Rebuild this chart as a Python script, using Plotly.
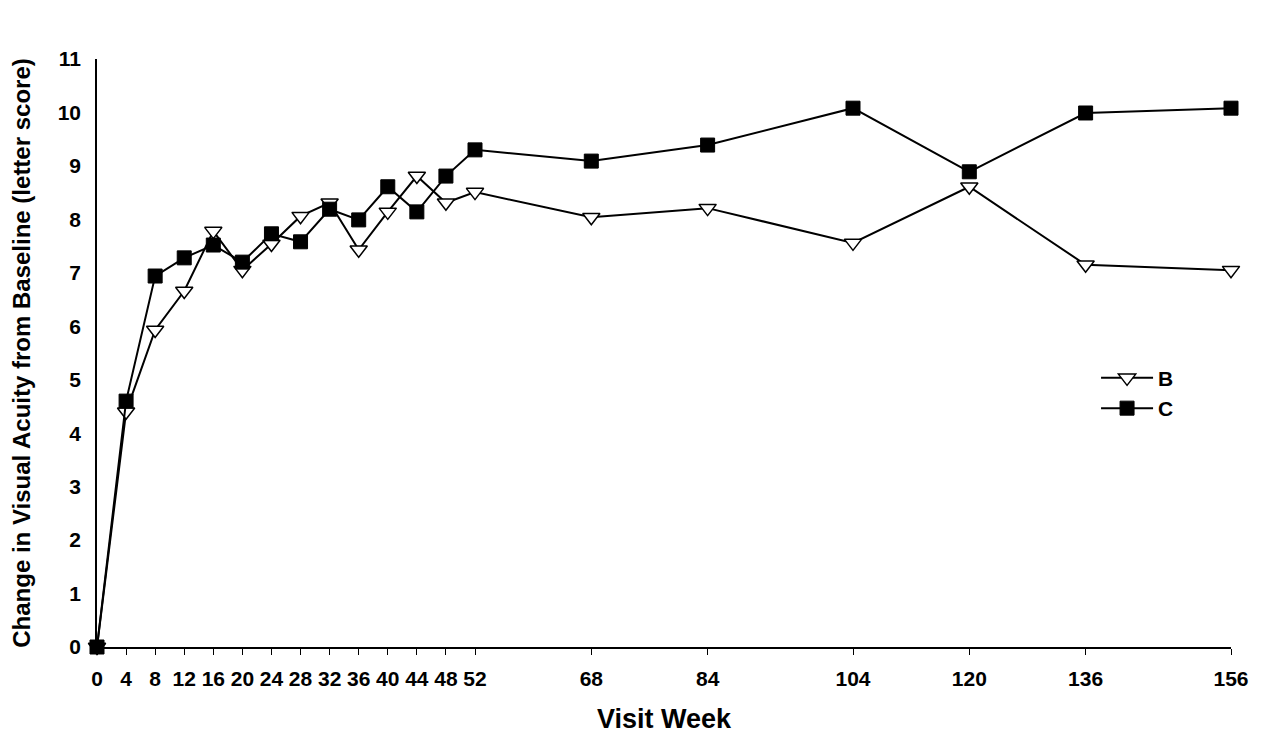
import plotly.graph_objects as go

weeks = [0, 4, 8, 12, 16, 20, 24, 28, 32, 36, 40, 44, 48, 52, 68, 84, 104, 120, 136, 156]
series_b = [0, 4.40, 5.93, 6.66, 7.78, 7.05, 7.54, 8.06, 8.31, 7.43, 8.14, 8.81, 8.31, 8.51,
            8.04, 8.21, 7.56, 8.61, 7.15, 7.05]
series_c = [0, 4.60, 6.94, 7.28, 7.52, 7.20, 7.73, 7.58, 8.19, 7.99, 8.61, 8.14, 8.81, 9.30,
            9.09, 9.39, 10.08, 8.89, 9.99, 10.08]
x_ticks = weeks
y_ticks = list(range(0, 12))

font_family = "Liberation Sans, Arial, sans-serif"

fig = go.Figure()
fig.add_trace(go.Scatter(
    x=weeks, y=series_b, name="<b>B</b>", mode="lines+markers",
    line=dict(color="black", width=2),
    marker=dict(symbol="triangle-down", size=15, color="white",
                line=dict(color="black", width=1.5)),
    cliponaxis=False,
))
fig.add_trace(go.Scatter(
    x=weeks, y=series_c, name="<b>C</b>", mode="lines+markers",
    line=dict(color="black", width=2),
    marker=dict(symbol="square", size=14, color="black",
                line=dict(color="black", width=1)),
    cliponaxis=False,
))

fig.update_layout(
    width=1266, height=743,
    margin=dict(l=89, r=43, t=51, b=104),
    plot_bgcolor="white", paper_bgcolor="white",
    font=dict(family=font_family, color="black", size=20),
    showlegend=True,
    legend=dict(x=0.881, y=0.492, xanchor="left", yanchor="top",
                bgcolor="rgba(0,0,0,0)",
                font=dict(family=font_family, size=21, color="black"),
                itemwidth=52, tracegroupgap=0),
    xaxis=dict(
        range=[0, 156], tickmode="array", tickvals=x_ticks,
        ticktext=[str(v) for v in x_ticks],
        showgrid=False, zeroline=False, showline=True, linecolor="black", linewidth=1.5,
        ticks="outside", ticklen=6, tickcolor="black", ticklabelstandoff=6,
        tickfont=dict(family=font_family, size=21, color="black", weight="bold"),
        title=dict(text="<b>Visit Week</b>", font=dict(family=font_family, size=27), standoff=20),
    ),
    yaxis=dict(
        range=[0, 11], tickmode="array", tickvals=y_ticks,
        showgrid=False, zeroline=False, showline=True, linecolor="black", linewidth=1.5,
        ticks="", ticklabelstandoff=10,
        tickfont=dict(family=font_family, size=21, color="black", weight="bold"),
        title=dict(text="<b>Change in Visual Acuity from Baseline (letter score)</b>",
                   font=dict(family=font_family, size=24), standoff=20),
    ),
)

fig.write_html("out.html")
